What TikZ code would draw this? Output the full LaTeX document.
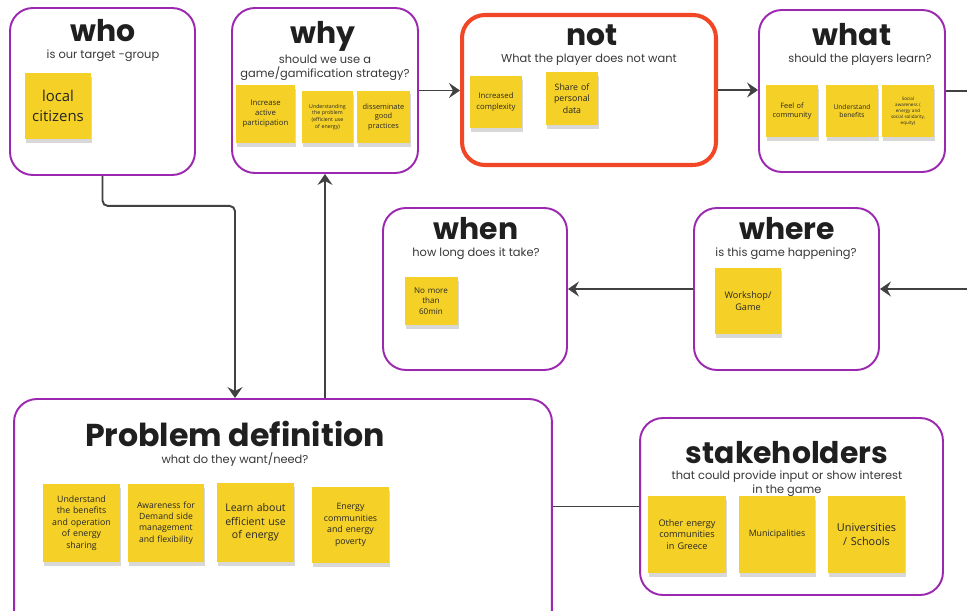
\documentclass[tikz,border=0pt]{standalone}
\usepackage{fontspec}
\setmainfont{Poppins}
\newfontfamily\notefont{Open Sans}
\usetikzlibrary{arrows.meta,positioning,shadows}
\definecolor{boardpurple}{HTML}{9C27B0}
\definecolor{boardred}{HTML}{F24726}
\definecolor{noteyellow}{HTML}{F5D128}
\definecolor{linegrey}{HTML}{414141}
\tikzset{
  >={Stealth[length=2.2mm,width=3mm,inset=0.8mm]},
  % rahmen
  frame/.style={draw=boardpurple,line width=1.1pt,rounded corners=13pt,fill=white},
  framenot/.style={frame,draw=boardred,line width=2.3pt},
  ttl/.style={font=\fontsize{17}{17}\selectfont\bfseries,text=black!88,inner sep=0pt,anchor=base},
  sub/.style={font=\fontsize{6.5}{8}\selectfont,text=black!78,inner sep=0pt,align=center},
  % zettel
  note/.style={fill=noteyellow,align=center,inner sep=1pt,text=black!85,
               drop shadow={shadow xshift=0.6pt,shadow yshift=-2.2pt,opacity=0.3}},
  notesize/.style 2 args={text width=#1,minimum height=#2},
  notefs/.style={font=\notefont\pgfmathsetmacro\nfskip{#1*1.3}\fontsize{#1}{\nfskip}\selectfont},
  % linien
  flow/.style={->,draw=linegrey,line width=1.1pt,rounded corners=3pt},
  link/.style={draw=linegrey,line width=1.1pt},
}

\begin{document}
\begin{tikzpicture}[x=0.02cm,y=-0.02cm]
\useasboundingbox (0,0) rectangle (967,611);
  % boxes
  \node[frame,minimum width=3.7cm,minimum height=3.34cm] (who) at (102.5,91.5) {};
  \node[frame,minimum width=3.72cm,minimum height=3.3cm] (why) at (325,90.5) {};
  \node[framenot,minimum width=5.08cm,minimum height=3cm] (not) at (589,90) {};
  \node[frame,minimum width=3.72cm,minimum height=3.24cm] (what) at (852,91) {};
  \node[frame,minimum width=3.68cm,minimum height=3.24cm] (when) at (475,289) {};
  \node[frame,minimum width=3.7cm,minimum height=3.24cm] (where) at (786.5,289) {};
  \node[frame,minimum width=10.76cm,minimum height=4.82cm] (problem) at (283,519.5) {};
  \node[frame,minimum width=6.06cm,minimum height=3.54cm] (stake) at (791.5,506.5) {};
  % titles
  \node[ttl] (whoT) at (103,42) {who};
  \node[sub] (whoS) at (103,56) {is our target -group};
  \node[ttl] (whyT) at (323,44) {why};
  \node[sub] (whyS) at (325,67.5) {should we use a\\game/gamification strategy?};
  \node[ttl] (notT) at (592,46) {not};
  \node[sub] (notS) at (589,60) {What the player does not want};
  \node[ttl] (whatT) at (852,46) {what};
  \node[sub] (whatS) at (860,60) {should the players learn?};
  \node[ttl] (whenT) at (476,240) {when};
  \node[sub] (whenS) at (476,253.5) {how long does it take?};
  \node[ttl] (whereT) at (787,240) {where};
  \node[sub] (whereS) at (786,253.5) {is this game happening?};
  \node[ttl,font=\fontsize{18}{18}\selectfont\bfseries] (problemT) at (235,446) {Problem definition};
  \node[sub] (problemS) at (235,460) {what do they want/need?};
  \node[ttl] (stakeT) at (787,463) {stakeholders};
  \node[sub] (stakeS) at (787,484) {that could provide input or show interest\\in the game};
  % notes
  \node[note,notesize={1.25cm}{1.32cm},notefs=8.5] (n1) at (58,106) {local\\citizens};
  \node[note,notesize={1.11cm}{1.16cm},notefs=4.4] (n2) at (265.5,114) {Increase\\active\\participation};
  \node[note,notesize={0.95cm}{1.04cm},notefs=3] (n3) at (327.5,117) {Understanding\\the problem\\(efficient use\\of energy)};
  \node[note,notesize={0.99cm}{1.06cm},notefs=4.2] (n4) at (383.5,117) {disseminate\\good\\practices};
  \node[note,notesize={0.97cm}{1.04cm},notefs=4.4] (n5) at (496,102) {Increased\\complexity};
  \node[note,notesize={0.97cm}{1.06cm},notefs=5] (n6) at (572,98.5) {Share of\\personal\\data};
  \node[note,notesize={0.97cm}{1.04cm},notefs=4.2] (n7) at (792,111) {Feel of\\community};
  \node[note,notesize={0.97cm}{1.04cm},notefs=3.8] (n8) at (852,111) {Understand\\benefits};
  \node[note,notesize={0.97cm}{1.04cm},notefs=2.6] (n9) at (908,111) {Social\\awareness (\\energy and\\social solidarity,\\equity)};
  \node[note,notesize={0.99cm}{0.96cm},notefs=4.6] (n10) at (431,301) {No more\\than\\60min};
  \node[note,notesize={1.25cm}{1.34cm},notefs=5.2] (n11) at (748,301) {Workshop/\\Game};
  \node[note,notesize={1.47cm}{1.56cm},notefs=5] (n12) at (81.5,523) {Understand\\the benefits\\and operation\\of energy\\sharing};
  \node[note,notesize={1.45cm}{1.56cm},notefs=4.9] (n13) at (166,523) {Awareness for\\Demand side\\management\\and flexibility};
  \node[note,notesize={1.47cm}{1.58cm},notefs=6] (n14) at (255.5,522.5) {Learn about\\efficient use\\of energy};
  \node[note,notesize={1.47cm}{1.52cm},notefs=5] (n15) at (350.5,525) {Energy\\communities\\and energy\\poverty};
  \node[note,notesize={1.49cm}{1.54cm},notefs=5.2] (n16) at (687,534.5) {Other energy\\communities\\in Greece};
  \node[note,notesize={1.45cm}{1.54cm},notefs=5] (n17) at (777,534.5) {Municipalities};
  \node[note,notesize={1.47cm}{1.54cm},notefs=6.2] (n18) at (866.5,534.5) {Universities\\/ Schools};
  % connectors
  \coordinate (offtop) at (967,92);
  \coordinate (offmid) at (967,289);
  \draw[flow] (why.east) -- (why.east -| not.west);
  \draw[flow] (not.east) -- (not.east -| what.west);
  \draw[link] (what.east) -- (what.east -| offtop);
  \draw[flow] (where.west) -- (when.east);
  \draw[flow] (offmid) -- (where.east);
  \draw[flow] (who.south) -- ++(0,30) -| ([xshift=-0.96cm]problem.north);
  \draw[flow] (problem.north -| why.south) -- (why.south);
  \draw[link] (stake.west) -- (stake.west -| problem.east);
\end{tikzpicture}
\end{document}
